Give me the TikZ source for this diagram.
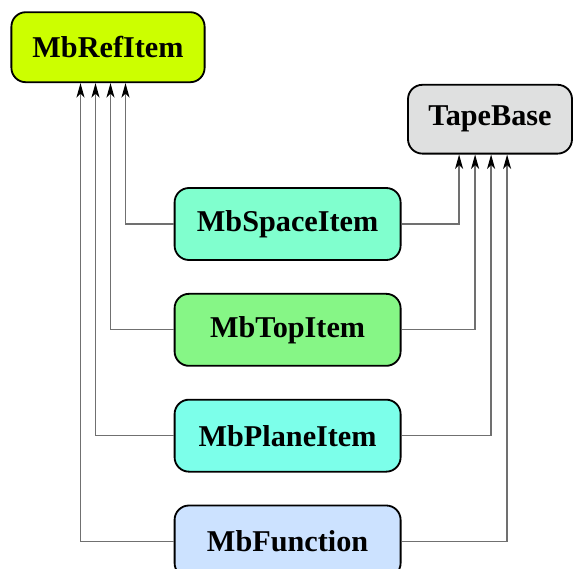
\documentclass[tikz,border=0pt]{standalone}
\usepackage{fontspec}
\setmainfont{Liberation Serif}
\usepackage{tikz}
\usetikzlibrary{arrows.meta,positioning}
\definecolor{refc}{HTML}{CCFF00}
\definecolor{tapec}{HTML}{DFE0E0}
\definecolor{spacec}{HTML}{80FFCE}
\definecolor{topc}{HTML}{86F686}
\definecolor{planec}{HTML}{7CFFEA}
\definecolor{funcc}{HTML}{CCE2FF}
\definecolor{wire}{HTML}{707070}

\begin{document}
\begin{tikzpicture}[
  node distance=0.8cm,
  box/.style={draw=black,line width=1.3pt,rounded corners=0.36cm,minimum width=5.65cm,minimum height=1.8cm,align=center,font=\fontsize{21.5}{24}\selectfont\bfseries},
  basebox/.style={box,minimum width=4.1cm,minimum height=1.72cm},
  arrow/.style={draw=wire,line width=0.9pt,-{Stealth[length=3.6mm,width=2mm,inset=1mm,color=black]}}
]
  \useasboundingbox (0,0) rectangle (14.35,-14.2);
  \node[basebox,fill=refc,minimum width=4.83cm,minimum height=1.75cm] (ref) at (2.7,-1.18) {MbRefItem};
  \node[basebox,fill=tapec] (tape) at (12.25,-2.98) {TapeBase};
  \node[box,fill=spacec] (space) at (7.19,-5.6) {MbSpaceItem};
  \node[box,fill=topc,below=of space] (top) {MbTopItem};
  \node[box,fill=planec,below=of top] (plane) {MbPlaneItem};
  \node[box,fill=funcc,below=of plane] (func) {MbFunction};
  % links to MbRefItem
  \draw[arrow] (space.west) -| ([xshift=2.875cm]ref.south west);
  \draw[arrow] (top.west) -| ([xshift=2.5cm]ref.south west);
  \draw[arrow] (plane.west) -| ([xshift=2.125cm]ref.south west);
  \draw[arrow] (func.west) -| ([xshift=1.75cm]ref.south west);
  % links to TapeBase
  \draw[arrow] (space.east) -| ([xshift=1.3cm]tape.south west);
  \draw[arrow] (top.east) -| ([xshift=1.7cm]tape.south west);
  \draw[arrow] (plane.east) -| ([xshift=2.1cm]tape.south west);
  \draw[arrow] (func.east) -| ([xshift=2.5cm]tape.south west);
\end{tikzpicture}
\end{document}
